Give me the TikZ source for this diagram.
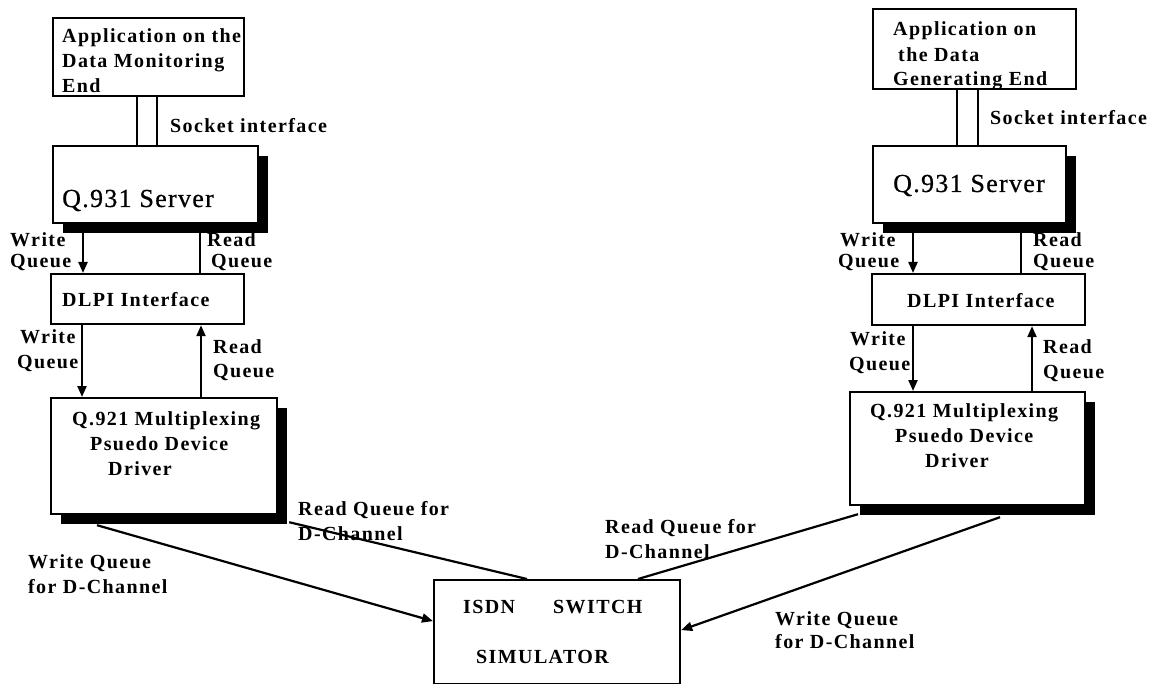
\documentclass[tikz,border=0pt]{standalone}
\usepackage{fontspec}
\setmainfont{Liberation Serif}
\newfontfamily\lab{Liberation Serif}[LetterSpace=7]
\newfontfamily\labbig{Liberation Serif}[LetterSpace=5,FakeBold=0.6]
\usetikzlibrary{arrows.meta,shadows}
\begin{document}
\begin{tikzpicture}[x=1pt,y=-1pt,
 box/.style={draw, line width=2.2pt, fill=white, inner sep=0pt, anchor=north west},
 shbox/.style={box, drop shadow={shadow xshift=10pt, shadow yshift=-10pt, fill=black, opacity=1}},
 t/.style={anchor=base west, inner sep=0pt, font=\lab\bfseries\fontsize{20}{24}\selectfont},
 big/.style={anchor=base west, inner sep=0pt, font=\labbig\fontsize{26}{30}\selectfont},
 ln/.style={line width=2.2pt},
 arr/.style={ln, -{Triangle[length=11pt,width=9pt]}}]
\useasboundingbox[fill=white] (0,0) rectangle (1161,684);

% boxes
\node[box, minimum width=191pt, minimum height=78pt] (appL) at (52,17) {};
\node[shbox, minimum width=205pt, minimum height=77pt] (q931L) at (52,145) {};
\node[box, minimum width=193pt, minimum height=50pt] (dlpiL) at (50,273) {};
\node[shbox, minimum width=226pt, minimum height=116pt] (q921L) at (50,397) {};
\node[box, minimum width=203pt, minimum height=80pt] (appR) at (872,8) {};
\node[shbox, minimum width=193pt, minimum height=77pt] (q931R) at (872,145) {};
\node[box, minimum width=213pt, minimum height=51pt] (dlpiR) at (871,273) {};
\node[shbox, minimum width=235pt, minimum height=113pt] (q921R) at (849,391) {};
\node[box, minimum width=246pt, minimum height=104pt] (sw) at (433,579) {};

% box texts
\node[t] (aL1) at (62,43) {Application on the};
\node[t] (aL2) at (62,68) {Data Monitoring};
\node[t] (aL3) at (62,93) {End};
\node[t] (aR1) at (893,36) {Application on};
\node[t] (aR2) at (898,62) {the Data};
\node[t] (aR3) at (893,86) {Generating End};
\node[big] (sL) at (62,207) {Q.931 Server};
\node[big] (sR) at (893,192) {Q.931 Server};
\node[t] (dL) at (62,307) {DLPI Interface};
\node[t] (dR) at (907,308) {DLPI Interface};
\node[t] (mL1) at (72,425) {Q.921 Multiplexing};
\node[t] (mL2) at (90,450) {Psuedo Device};
\node[t] (mL3) at (108,475) {Driver};
\node[t] (mR1) at (870,417) {Q.921 Multiplexing};
\node[t] (mR2) at (895,442) {Psuedo Device};
\node[t] (mR3) at (925,467) {Driver};
\node[t] (sw1) at (463,613) {ISDN};
\node[t] (sw2) at (553,613) {SWITCH};
\node[t] (sw3) at (476,663) {SIMULATOR};

% socket interfaces
\draw[ln] ([xshift=85pt]appL.south west) -- ([xshift=85pt]q931L.north west);
\draw[ln] ([xshift=105pt]appL.south west) -- ([xshift=105pt]q931L.north west);
\draw[ln] ([xshift=85pt]appR.south west) -- ([xshift=85pt]q931R.north west);
\draw[ln] ([xshift=106pt]appR.south west) -- ([xshift=106pt]q931R.north west);
\node[t] (sockL) at (170,133) {Socket interface};
\node[t] (sockR) at (990,125) {Socket interface};

% left queues
\draw[arr] ([xshift=31pt]q931L.south west) -- ([xshift=33pt]dlpiL.north west);
\draw[ln] ([xshift=150pt]dlpiL.north west) -- ([xshift=148pt]q931L.south west);
\draw[arr] ([xshift=32pt]dlpiL.south west) -- ([xshift=32pt]q921L.north west);
\draw[arr] ([xshift=151pt]q921L.north west) -- ([xshift=151pt]dlpiL.south west);
\node[t] (wL1) at (10,247) {Write};
\node[t] (wL2) at (10,268) {Queue};
\node[t] (rL1) at (207,247) {Read};
\node[t] (rL2) at (211,268) {Queue};
\node[t] (wL3) at (20,343) {Write};
\node[t] (wL4) at (17,368) {Queue};
\node[t] (rL3) at (213,353) {Read};
\node[t] (rL4) at (213,377) {Queue};

% right queues
\draw[arr] ([xshift=41pt]q931R.south west) -- ([xshift=42pt]dlpiR.north west);
\draw[ln] ([xshift=150pt]dlpiR.north west) -- ([xshift=149pt]q931R.south west);
\draw[arr] ([xshift=42pt]dlpiR.south west) -- ([xshift=64pt]q921R.north west);
\draw[arr] ([xshift=183pt]q921R.north west) -- ([xshift=161pt]dlpiR.south west);
\node[t] (wR1) at (840,247) {Write};
\node[t] (wR2) at (838,268) {Queue};
\node[t] (rR1) at (1033,247) {Read};
\node[t] (rR2) at (1033,268) {Queue};
\node[t] (wR3) at (850,345) {Write};
\node[t] (wR4) at (849,370) {Queue};
\node[t] (rR3) at (1043,353) {Read};
\node[t] (rR4) at (1043,378) {Queue};

% D-channel connectors
\draw[arr] ([xshift=47pt,yshift=-10pt]q921L.south west) -- ([yshift=11pt]sw.west);
\draw[ln] ([xshift=94pt]sw.north west) -- ([xshift=11pt,yshift=-7pt]q921L.south east);
\draw[ln] ([xshift=205pt]sw.north west) -- ([xshift=9pt,yshift=-8pt]q921R.south west);
\draw[arr] ([xshift=151pt,yshift=-11pt]q921R.south west) -- ([yshift=2pt]sw.east);
\node[t] (dl1) at (298,515) {Read Queue for};
\node[t] (dl2) at (298,540) {D-Channel};
\node[t] (dl3) at (28,568) {Write Queue};
\node[t] (dl4) at (28,593) {for D-Channel};
\node[t] (dr1) at (605,533) {Read Queue for};
\node[t] (dr2) at (605,558) {D-Channel};
\node[t] (dr3) at (775,625) {Write Queue};
\node[t] (dr4) at (775,648) {for D-Channel};
\end{tikzpicture}
\end{document}
